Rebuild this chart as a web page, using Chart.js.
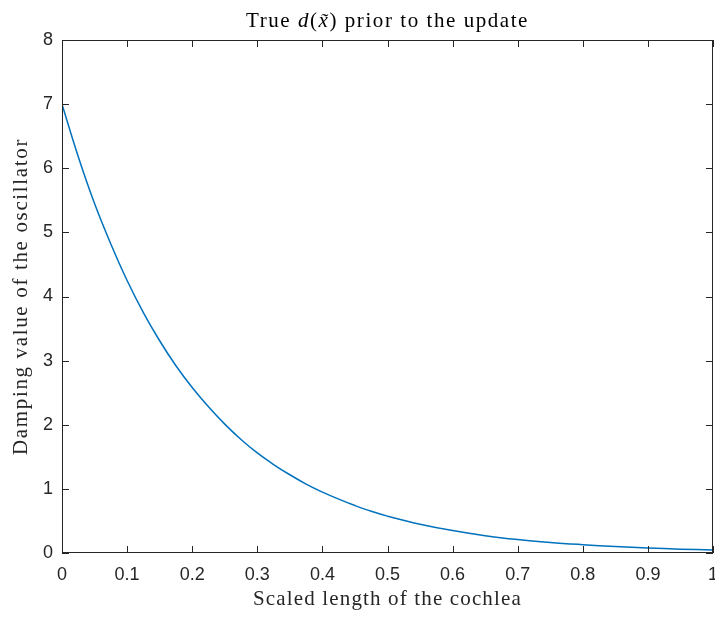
<!DOCTYPE html>
<html>
<head>
<meta charset="utf-8">
<script src="https://cdn.jsdelivr.net/npm/chart.js@4.4.1/dist/chart.umd.min.js"></script>
<style>
  html, body { margin: 0; padding: 0; background: #fff; }
  #wrap { width: 715px; height: 619px; }
</style>
</head>
<body>
<div id="wrap"><canvas id="myChart" width="715" height="619"></canvas></div>
<script>
// values
var xPos = [0, 0.025, 0.05, 0.075, 0.1, 0.125, 0.15, 0.175, 0.2, 0.225, 0.25,
            0.275, 0.3, 0.325, 0.35, 0.375, 0.4, 0.425, 0.45, 0.475, 0.5,
            0.55, 0.6, 0.65, 0.7, 0.75, 0.8, 0.85, 0.9, 0.95, 1];
var damping = [7.00, 6.18, 5.45, 4.82, 4.25, 3.75, 3.31, 2.92, 2.58, 2.28, 2.01,
               1.77, 1.56, 1.38, 1.22, 1.075, 0.95, 0.84, 0.74, 0.65, 0.575,
               0.45, 0.35, 0.27, 0.21, 0.165, 0.13, 0.10, 0.078, 0.06, 0.047];
var xTickLabels = ['0', '0.1', '0.2', '0.3', '0.4', '0.5', '0.6', '0.7', '0.8', '0.9', '1'];
var yTickLabels = ['0', '1', '2', '3', '4', '5', '6', '7', '8'];

var xTitle = 'Scaled length of the cochlea';
var yTitle = 'Damping value of the oscillator';

var axisColor = '#262626';
var serif = '"Liberation Serif", "Times New Roman", serif';
var sans = '"Liberation Sans", Arial, sans-serif';

var points = xPos.map(function (x, i) { return { x: x, y: damping[i] }; });

// draw a run of [text, italic] pieces spread out to a given width (LaTeX fonts run wider)
function drawSpread(ctx, parts, size, cx, baseY, width) {
    var plain = 0, chars = 0;
    parts.forEach(function (p) {
        ctx.font = (p[1] ? 'italic ' : '') + size + 'px ' + serif;
        ctx.letterSpacing = '0px';
        plain += ctx.measureText(p[0]).width;
        chars += p[0].replace(/\u0303/g, '').length;
    });
    var sp = Math.max(0, (width - plain) / chars);
    var x = cx - width / 2;
    parts.forEach(function (p) {
        ctx.font = (p[1] ? 'italic ' : '') + size + 'px ' + serif;
        ctx.letterSpacing = sp.toFixed(2) + 'px';
        ctx.fillText(p[0], x, baseY);
        x += ctx.measureText(p[0]).width;
    });
    ctx.letterSpacing = '0px';
}

// matlab style box with inward ticks, plus the titles
var boxPlugin = {
    id: 'matlabBox',
    afterDraw: function (chart) {
        var ctx = chart.ctx;
        var a = chart.chartArea;
        var xs = chart.scales.x, ys = chart.scales.y;
        var tl = 7;
        ctx.save();
        ctx.strokeStyle = axisColor;
        ctx.lineWidth = 1;
        ctx.strokeRect(Math.round(a.left) + 0.5, Math.round(a.top) + 0.5,
                       Math.round(a.right - a.left) - 1, Math.round(a.bottom - a.top) - 1);
        ctx.beginPath();
        xs.ticks.forEach(function (t) {
            var px = Math.round(xs.getPixelForValue(t.value)) + 0.5;
            ctx.moveTo(px, a.bottom); ctx.lineTo(px, a.bottom - tl);
            ctx.moveTo(px, a.top); ctx.lineTo(px, a.top + tl);
        });
        ys.ticks.forEach(function (t) {
            var py = Math.round(ys.getPixelForValue(t.value)) + 0.5;
            ctx.moveTo(a.left, py); ctx.lineTo(a.left + tl, py);
            ctx.moveTo(a.right, py); ctx.lineTo(a.right - tl, py);
        });
        ctx.stroke();

        ctx.textBaseline = 'alphabetic';
        ctx.textAlign = 'left';
        var cx = (a.left + a.right) / 2;
        var cy = (a.top + a.bottom) / 2;

        ctx.fillStyle = '#000';
        drawSpread(ctx, [['True ', false], ['d', true], ['(', false], ['x\u0303', true],
                         [') prior to the update', false]], 21, cx, 27, 283);

        ctx.fillStyle = '#262626';
        drawSpread(ctx, [[xTitle, false]], 21, cx, 605, 269);

        ctx.translate(27, cy);
        ctx.rotate(-Math.PI / 2);
        drawSpread(ctx, [[yTitle, false]], 21, 0, 0, 317);
        ctx.restore();
    }
};

var ctx = document.getElementById('myChart').getContext('2d');
var myChart = new Chart(ctx, {
    type: 'line',
    data: {
        datasets: [{
            label: 'd',
            data: points,
            borderColor: '#0072BD',
            borderWidth: 1.5,
            pointRadius: 0,
            tension: 0.4,
            fill: false
        }]
    },
    options: {
        responsive: false,
        animation: false,
        events: [],
        layout: {
            autoPadding: false,
            padding: { left: 0, right: 2, top: 40, bottom: 0 }
        },
        plugins: {
            legend: { display: false },
            title: { display: false },
            tooltip: { enabled: false }
        },
        scales: {
            x: {
                type: 'linear',
                min: 0,
                max: 1,
                grid: { display: false, drawTicks: false },
                border: { display: false },
                afterFit: function (s) {
                    s.height = 66;
                    s.paddingLeft = 0;
                    s.paddingRight = 0;
                },
                ticks: {
                    stepSize: 0.1,
                    padding: 11,
                    color: axisColor,
                    font: { family: sans, size: 18 },
                    maxRotation: 0,
                    autoSkip: false,
                    callback: function (v, i) { return xTickLabels[i]; }
                }
            },
            y: {
                min: 0,
                max: 8,
                grid: { display: false, drawTicks: false },
                border: { display: false },
                afterFit: function (s) {
                    s.width = 62;
                    s.paddingTop = 0;
                    s.paddingBottom = 0;
                },
                ticks: {
                    stepSize: 1,
                    padding: 9,
                    color: axisColor,
                    font: { family: sans, size: 18 },
                    callback: function (v, i) { return yTickLabels[i]; }
                }
            }
        }
    },
    plugins: [boxPlugin]
});
</script>
</body>
</html>
